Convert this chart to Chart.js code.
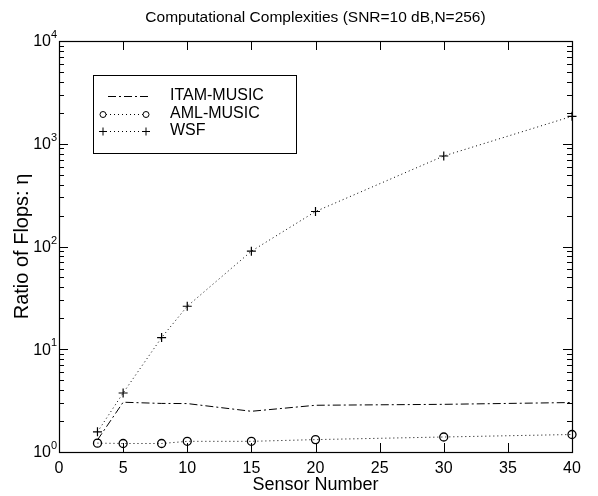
<!DOCTYPE html>
<html><head><meta charset="utf-8">
<script src="https://cdn.jsdelivr.net/npm/chart.js@4"></script>
<style>html,body{margin:0;padding:0;background:#fff}#wrap{width:598px;height:496px}</style>
</head><body><div id="wrap"><canvas id="c" width="598" height="496"></canvas></div>
<script>
const sensorNumbers=[3,5,8,10,15,20,30,40];
const itamMusic=[1.31,3.05,2.97,2.96,2.49,2.85,2.91,3.03];
const amlMusic=[1.22,1.21,1.21,1.27,1.27,1.32,1.40,1.48];
const wsf=[1.57,3.75,13.0,26.2,90,219,760,1850];
const xTickValues=[0,5,10,15,20,25,30,35,40];
const yDecades=[1,10,100,1000,10000];
const titleText='Computational Complexities (SNR=10 dB,N=256)';
const seriesNames=['ITAM-MUSIC','AML-MUSIC','WSF'];
const FONT='"Liberation Sans", Arial, Helvetica, sans-serif';

const pts=(ys)=>sensorNumbers.map((x,i)=>({x:x,y:ys[i]}));

const decorPlugin={
  id:'decor',
  afterDraw(chart){
    const ctx=chart.ctx, a=chart.chartArea, xs=chart.scales.x, ys=chart.scales.y;
    ctx.save();
    ctx.strokeStyle='#000'; ctx.fillStyle='#000'; ctx.lineWidth=1.2;
    ctx.strokeRect(Math.round(a.left)+0.5,Math.round(a.top)+0.5,Math.round(a.right-a.left),Math.round(a.bottom-a.top));
    ctx.lineWidth=1;
    ctx.beginPath();
    xTickValues.forEach(v=>{
      const x=Math.round(xs.getPixelForValue(v))+0.5;
      ctx.moveTo(x,a.bottom); ctx.lineTo(x,a.bottom-9);
      ctx.moveTo(x,a.top); ctx.lineTo(x,a.top+9);
    });
    for(let d=0; d<yDecades.length; d++){
      const base=yDecades[d];
      const y=Math.round(ys.getPixelForValue(base))+0.5;
      ctx.moveTo(a.left,y); ctx.lineTo(a.left+9,y);
      ctx.moveTo(a.right,y); ctx.lineTo(a.right-9,y);
      if(d<yDecades.length-1){
        for(let m=2;m<=9;m++){
          const ym=Math.round(ys.getPixelForValue(base*m))+0.5;
          ctx.moveTo(a.left,ym); ctx.lineTo(a.left+5,ym);
          ctx.moveTo(a.right,ym); ctx.lineTo(a.right-5,ym);
        }
      }
    }
    ctx.stroke();
    yDecades.forEach(v=>{
      const y=ys.getPixelForValue(v);
      const e=Math.round(Math.log10(v));
      ctx.font='16px '+FONT; ctx.textAlign='right'; ctx.textBaseline='middle';
      ctx.fillText('10',a.left-8,y+1);
      ctx.font='11px '+FONT; ctx.textAlign='left';
      ctx.fillText(String(e),a.left-8,y-6);
    });
    ctx.font='15.5px '+FONT; ctx.textAlign='center'; ctx.textBaseline='middle';
    ctx.fillText(titleText,(a.left+a.right)/2,18);
    const bx=93.5, by=75.5, bw=203, bh=78;
    ctx.fillStyle='#fff'; ctx.fillRect(bx,by,bw,bh);
    ctx.strokeStyle='#000'; ctx.lineWidth=1; ctx.strokeRect(bx,by,bw,bh);
    const rows=[96,114,131];
    chart.data.datasets.forEach((ds,i)=>{
      const y=rows[i]+0.5;
      ctx.save();
      ctx.strokeStyle=ds.borderColor; ctx.lineWidth=ds.borderWidth;
      ctx.setLineDash(ds.borderDash||[]);
      ctx.beginPath();
      if(i===0){ctx.moveTo(108,y); ctx.lineTo(148,y);} else {ctx.moveTo(106,y); ctx.lineTo(143,y);}
      ctx.stroke();
      ctx.setLineDash([]);
      if(ds.pointStyle==='circle'){
        [103,146].forEach(px=>{ctx.beginPath(); ctx.arc(px,y,3,0,Math.PI*2); ctx.stroke();});
      } else if(ds.pointStyle==='cross'){
        [103,146].forEach(px=>{ctx.beginPath(); ctx.moveTo(px-4,y); ctx.lineTo(px+4,y); ctx.moveTo(px,y-4); ctx.lineTo(px,y+4); ctx.stroke();});
      }
      ctx.restore();
      ctx.fillStyle='#000';
      ctx.font='16px '+FONT; ctx.textAlign='left'; ctx.textBaseline='middle';
      ctx.fillText(ds.label,170,rows[i]);
    });
    ctx.restore();
  }
};

new Chart(document.getElementById('c'),{
  type:'line',
  data:{datasets:[
    {label:seriesNames[0],data:pts(itamMusic),borderColor:'#000',borderWidth:1,borderDash:[8,3,2,3],pointRadius:0,tension:0,fill:false,clip:false},
    {label:seriesNames[1],data:pts(amlMusic),borderColor:'#000',borderWidth:1,borderDash:[1,3],pointStyle:'circle',pointRadius:4,pointBorderWidth:1.3,pointBorderColor:'#000',pointBackgroundColor:'rgba(0,0,0,0)',tension:0,fill:false,clip:false},
    {label:seriesNames[2],data:pts(wsf),borderColor:'#000',borderWidth:1,borderDash:[1,3],pointStyle:'cross',pointRadius:4.5,pointBorderWidth:1.2,pointBorderColor:'#000',tension:0,fill:false,clip:false}
  ]},
  options:{
    responsive:false,animation:false,devicePixelRatio:1,
    layout:{padding:{top:41,right:26,bottom:0,left:0}},
    plugins:{legend:{display:false},title:{display:false},tooltip:{enabled:false}},
    scales:{
      x:{type:'linear',min:0,max:40,
        ticks:{stepSize:5,autoSkip:false,maxRotation:0,color:'#000',font:{family:FONT,size:16},padding:7},
        grid:{display:false,drawTicks:false},border:{display:false},
        title:{display:true,text:'Sensor Number',color:'#000',font:{family:FONT,size:18},padding:{top:0,bottom:0}},
        afterFit(s){s.height=44;}
      },
      y:{type:'logarithmic',min:1,max:10000,
        ticks:{display:false},
        grid:{display:false,drawTicks:false},border:{display:false},
        title:{display:true,text:'Ratio of Flops: η',color:'#000',font:{family:FONT,size:20},padding:{top:10,bottom:0}},
        afterFit(s){s.width=59;}
      }
    }
  },
  plugins:[decorPlugin]
});
</script>
</body></html>
